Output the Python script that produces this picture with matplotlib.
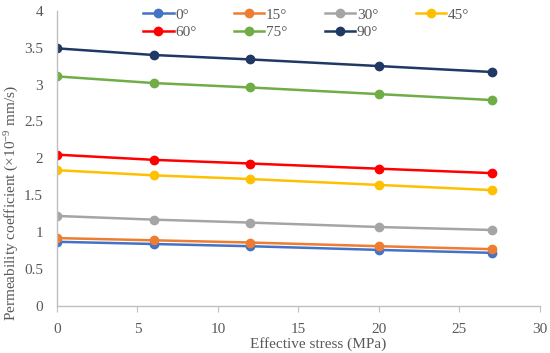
import numpy as np
import matplotlib
matplotlib.use("Agg")
import matplotlib.pyplot as plt

# data
stress = [0, 6, 12, 20, 27]
labels = ["0°", "15°", "30°", "45°", "60°", "75°", "90°"]
k_0 = [0.87, 0.84, 0.81, 0.76, 0.72]
k_15 = [0.92, 0.89, 0.86, 0.81, 0.77]
k_30 = [1.22, 1.17, 1.13, 1.07, 1.03]
k_45 = [1.84, 1.77, 1.72, 1.64, 1.57]
k_60 = [2.05, 1.98, 1.93, 1.86, 1.80]
k_75 = [3.11, 3.02, 2.96, 2.87, 2.79]
k_90 = [3.49, 3.40, 3.34, 3.25, 3.17]
colors = ["#4472C4", "#ED7D31", "#A5A5A5", "#FFC000", "#FF0000", "#70AD47", "#203864"]

plt.rcParams['font.family'] = ['Liberation Serif', 'DejaVu Serif']
plt.rcParams['mathtext.fontset'] = 'custom'
plt.rcParams['mathtext.rm'] = 'Liberation Serif'
plt.rcParams['mathtext.it'] = 'Liberation Serif:italic'
txt = "#595959"
grey = "#BFBFBF"

fig = plt.figure(figsize=(5.5, 3.53), dpi=100)
ax = fig.add_axes([0.1036, 0.1331, 0.8782, 0.8366])

series = [k_0, k_15, k_30, k_45, k_60, k_75, k_90]
lines = []
for vals, lab, c in zip(series, labels, colors):
    ln, = ax.plot(stress, vals, color=c, lw=1.8, marker='o', ms=6, label=lab)
    lines.append(ln)

ax.set_xlim(0, 30)
ax.set_ylim(0, 4)
ax.set_xticks(np.arange(0, 31, 5))
ax.set_yticks(np.arange(0, 4.01, 0.5))
ax.set_yticklabels(["0", "0.5", "1", "1.5", "2", "2.5", "3", "3.5", "4"])
for s in ['top', 'right']:
    ax.spines[s].set_visible(False)
for s in ['left', 'bottom']:
    ax.spines[s].set_color(grey)
    ax.spines[s].set_linewidth(1.0)
ax.tick_params(axis='x', colors=grey, labelcolor=txt, labelsize=11, length=4, direction='out', pad=8)
ax.tick_params(axis='y', length=0, labelcolor=txt, labelsize=11, pad=10)

ax.set_xlabel("Effective stress (MPa)", color=txt, fontsize=11)
ax.xaxis.set_label_coords(0.54, -0.105)
ax.set_ylabel(r"Permeability coefficient (×10$^{-9}$ mm/s)", color=txt, fontsize=11)
ax.yaxis.set_label_coords(-0.075, 0.35)

# legend filled column by column -> reorder so rows read 0,15,30,45 / 60,75,90
order = [0, 4, 1, 5, 2, 6, 3]
leg = ax.legend([lines[i] for i in order], [labels[i] for i in order],
                ncol=4, loc='upper left', bbox_to_anchor=(143 / 550, 1 - 8 / 353),
                bbox_transform=fig.transFigure, frameon=False, borderpad=0, borderaxespad=0,
                fontsize=11, handlelength=2.0, handletextpad=0.1, columnspacing=2.45,
                labelspacing=0.25)
for t in leg.get_texts():
    t.set_color(txt)

fig.savefig("out.png", dpi=100)
